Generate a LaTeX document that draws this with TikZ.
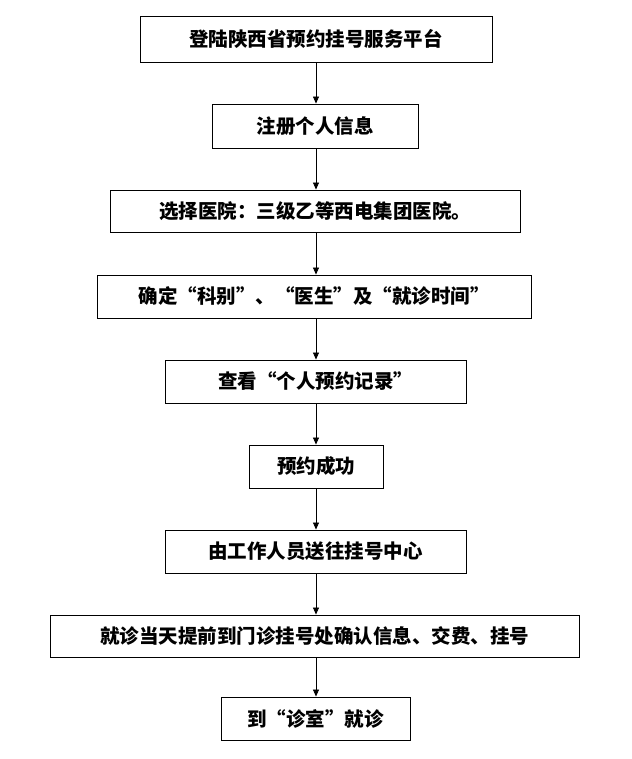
\documentclass[tikz,border=0pt]{standalone}
\usepackage{fontspec}
\newfontfamily\cjk{Noto Sans CJK SC}
\usetikzlibrary{arrows.meta}
\begin{document}
\begin{tikzpicture}[x=1pt,y=-1pt,
  bx/.style={draw,line width=0.9pt,inner sep=0pt,font=\cjk\fontsize{19.5}{22}\selectfont\bfseries},
  ar/.style={-{Triangle[length=7pt,width=6pt]},line width=0.7pt}]
\useasboundingbox (0,0) rectangle (631,759);
\node[bx,minimum width=352,minimum height=46] (b1) at (316,39) {登陆陕西省预约挂号服务平台};
\node[bx,minimum width=206,minimum height=44] (b2) at (315,126) {注册个人信息};
\node[bx,minimum width=410,minimum height=42] (b3) at (315,211) {选择医院：三级乙等西电集团医院。};
\node[bx,minimum width=434,minimum height=43] (b4) at (314,296.5) {确定“科别”、“医生”及“就诊时间”};
\node[bx,minimum width=301,minimum height=43] (b5) at (315.5,381.5) {查看“个人预约记录”};
\node[bx,minimum width=134,minimum height=43] (b6) at (316,466.5) {预约成功};
\node[bx,minimum width=301,minimum height=43] (b7) at (315.5,551.5) {由工作人员送往挂号中心};
\node[bx,minimum width=529,minimum height=42] (b8) at (314.5,636) {就诊当天提前到门诊挂号处确认信息、交费、挂号};
\node[bx,minimum width=189,minimum height=43] (b9) at (315.5,718.5) {到“诊室”就诊};
\foreach \a/\b in {b1/b2,b2/b3,b3/b4,b4/b5,b5/b6,b6/b7,b7/b8,b8/b9}
  \draw[ar] (\a.south -| 316,0) -- (\b.north -| 316,0);
\end{tikzpicture}
\end{document}
